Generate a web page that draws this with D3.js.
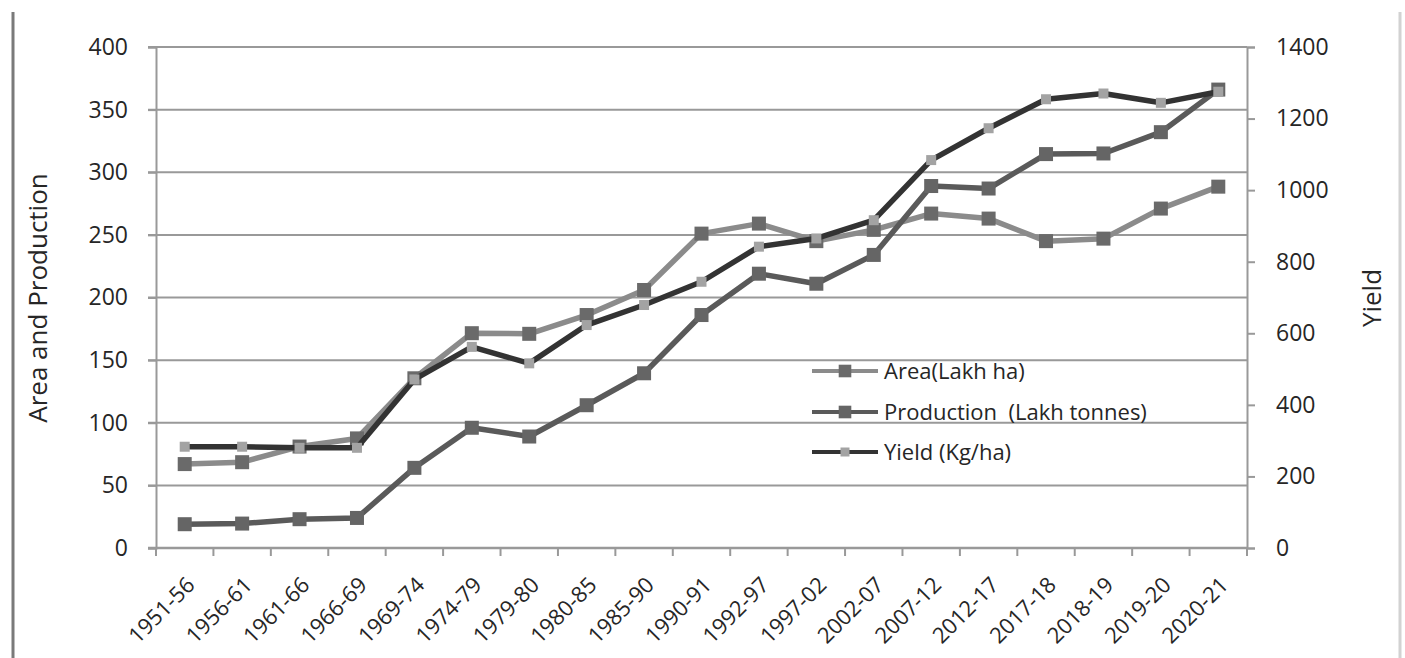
<!DOCTYPE html>
<html>
<head>
<meta charset="utf-8">
<script src="https://cdn.jsdelivr.net/npm/d3@7"></script>
<style>
  html, body { margin: 0; padding: 0; background: #fff; }
  svg { display: block; font-family: "Open Sans", "Noto Sans", sans-serif; }
  text { white-space: pre; }
</style>
</head>
<body>
<svg id="chart" width="1405" height="658"></svg>
<script>
// Periods on the category axis
const periods = ["1951-56","1956-61","1961-66","1966-69","1969-74","1974-79","1979-80",
  "1980-85","1985-90","1990-91","1992-97","1997-02","2002-07","2007-12","2012-17",
  "2017-18","2018-19","2019-20","2020-21"];

// Area (Lakh ha) - left axis
const area = [67, 68.5, 81, 87.5, 135.5, 171.5, 171, 186, 206, 251, 259, 245, 254, 267, 263, 245, 247, 271, 288.5];
// Production (Lakh tonnes) - left axis
const production = [19, 19.5, 23, 24, 64, 96, 89, 114, 139.5, 186, 219, 211, 234, 289, 287, 314.5, 315, 332, 366];
// Yield (Kg/ha) - right axis
const yieldKg = [283, 283, 280, 280, 471, 562, 516, 623, 679, 744, 842, 865, 916, 1084, 1173, 1254, 1270, 1244, 1275];

const leftTicks = [0, 50, 100, 150, 200, 250, 300, 350, 400];
const rightTicks = [0, 200, 400, 600, 800, 1000, 1200, 1400];

const seriesNames = ["Area(Lakh ha)", "Production  (Lakh tonnes)", "Yield (Kg/ha)"];

const svg = d3.select("#chart");
const plot = { left: 156, right: 1247, top: 47, bottom: 548 };
const textColor = "#262626";
const gridColor = "#999999";

const x = d3.scaleBand().domain(periods).range([plot.left, plot.right]);
const yL = d3.scaleLinear().domain([0, 400]).range([plot.bottom, plot.top]);
const yR = d3.scaleLinear().domain([0, 1400]).range([plot.bottom, plot.top]);
const cx = d => x(d) + x.bandwidth() / 2;

// frame lines at the page edges
svg.append("line").attr("x1", 13).attr("x2", 13).attr("y1", 12).attr("y2", 658)
  .attr("stroke", "#7a7a7a").attr("stroke-width", 3);
svg.append("line").attr("x1", 1400).attr("x2", 1400).attr("y1", 12).attr("y2", 658)
  .attr("stroke", "#d2d2d2").attr("stroke-width", 3);

// horizontal gridlines
svg.append("g").selectAll("line").data(leftTicks.slice(1)).join("line")
  .attr("x1", plot.left - 8).attr("x2", plot.right)
  .attr("y1", d => yL(d)).attr("y2", d => yL(d))
  .attr("stroke", gridColor).attr("stroke-width", 2);

// left axis
const gL = svg.append("g").attr("transform", `translate(${plot.left},0)`)
  .call(d3.axisLeft(yL).tickValues(leftTicks).tickSize(8).tickPadding(20));
gL.select(".domain").attr("stroke", gridColor).attr("stroke-width", 2);
gL.selectAll(".tick line").attr("stroke", gridColor).attr("stroke-width", 2);
gL.selectAll(".tick text").attr("font-size", 23).attr("fill", textColor)
  .attr("font-family", "'Open Sans', sans-serif");

// right axis
const gR = svg.append("g").attr("transform", `translate(${plot.right},0)`)
  .call(d3.axisRight(yR).tickValues(rightTicks).tickFormat(d3.format("d")).tickSize(8).tickPadding(21));
gR.select(".domain").attr("stroke", gridColor).attr("stroke-width", 2);
gR.selectAll(".tick line").attr("stroke", gridColor).attr("stroke-width", 2);
gR.selectAll(".tick text").attr("font-size", 23).attr("fill", textColor)
  .attr("font-family", "'Open Sans', sans-serif");

// bottom axis with ticks at category boundaries
const gB = svg.append("g").attr("transform", `translate(0,${plot.bottom})`);
gB.append("line").attr("x1", plot.left - 8).attr("x2", plot.right)
  .attr("stroke", gridColor).attr("stroke-width", 2.5);
const bounds = periods.map(p => x(p)).concat([plot.right]);
gB.selectAll("line.tk").data(bounds).join("line").attr("class", "tk")
  .attr("x1", d => d).attr("x2", d => d).attr("y1", 0).attr("y2", 8)
  .attr("stroke", gridColor).attr("stroke-width", 2);
gB.selectAll("text").data(periods).join("text")
  .attr("transform", d => `translate(${cx(d) + 6},${33}) rotate(-45)`)
  .attr("text-anchor", "end").attr("dy", "0.35em")
  .attr("font-size", 22).attr("fill", textColor).text(d => d);

// axis titles
svg.append("text").attr("transform", `translate(47,298) rotate(-90)`)
  .attr("text-anchor", "middle").attr("font-size", 26).attr("fill", textColor)
  .text("Area and Production");
svg.append("text").attr("transform", `translate(1381,298) rotate(-90)`)
  .attr("text-anchor", "middle").attr("font-size", 26).attr("fill", textColor)
  .text("Yield");

// series styles
const series = [
  { name: seriesNames[0], values: area, y: yL, line: "#8b8b8b", marker: "#6a6a6a", size: 14 },
  { name: seriesNames[1], values: production, y: yL, line: "#5a5a5a", marker: "#656565", size: 14 },
  { name: seriesNames[2], values: yieldKg, y: yR, line: "#333333", marker: "#a3a3a3", size: 10 }
];

series.forEach(s => {
  const line = d3.line().x((v, i) => cx(periods[i])).y(v => s.y(v));
  svg.append("path").datum(s.values).attr("d", line)
    .attr("fill", "none").attr("stroke", s.line).attr("stroke-width", 5.5)
    .attr("stroke-linejoin", "round");
  svg.append("g").selectAll("rect").data(s.values).join("rect")
    .attr("x", (v, i) => cx(periods[i]) - s.size / 2)
    .attr("y", v => s.y(v) - s.size / 2)
    .attr("width", s.size).attr("height", s.size)
    .attr("fill", s.marker);
});

// legend
const legend = svg.append("g");
const legendRows = [371, 412, 452];
series.forEach((s, i) => {
  const ly = legendRows[i];
  legend.append("line").attr("x1", 812).attr("x2", 878).attr("y1", ly).attr("y2", ly)
    .attr("stroke", s.line).attr("stroke-width", 4);
  legend.append("rect").attr("x", 845 - s.size * 0.45).attr("y", ly - s.size * 0.45)
    .attr("width", s.size * 0.9).attr("height", s.size * 0.9).attr("fill", s.marker);
  legend.append("text").attr("x", 884).attr("y", ly).attr("dy", "0.35em")
    .attr("font-size", 22).attr("fill", textColor).text(s.name);
});
</script>
</body>
</html>
